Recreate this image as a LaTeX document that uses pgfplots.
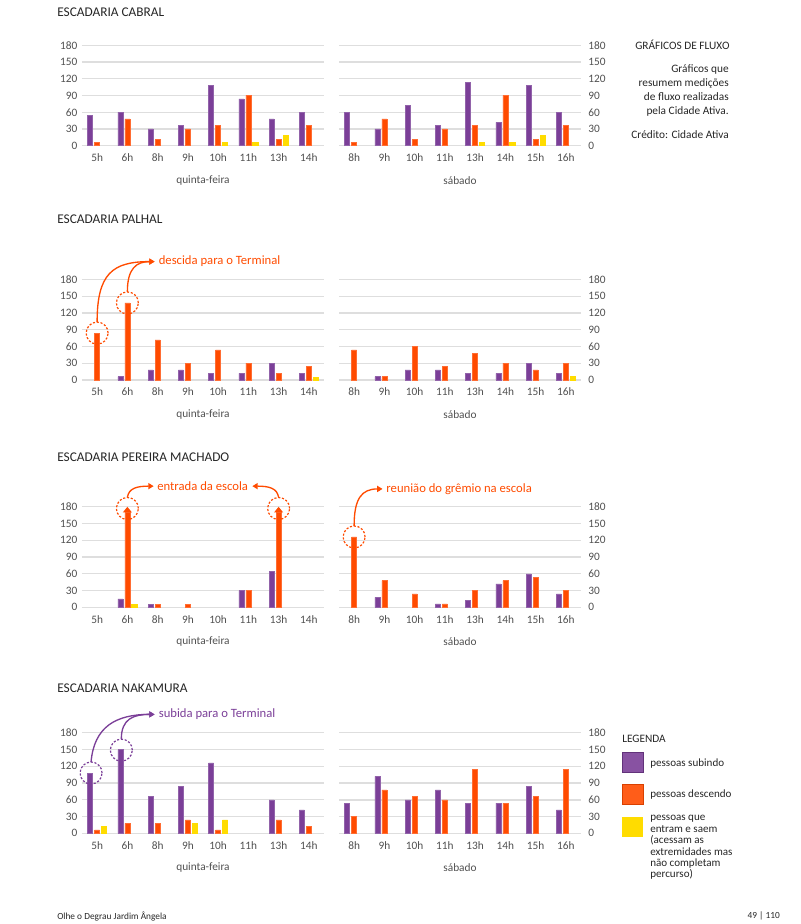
\documentclass[border=0pt]{standalone}
\usepackage{pgfplots}
\pgfplotsset{compat=1.18}
\usepackage{fontspec}
\setmainfont{Carlito}
\usetikzlibrary{arrows.meta}

\definecolor{roxo}{HTML}{7B3F98}
\definecolor{roxoB}{HTML}{9263AA}
\definecolor{laranja}{HTML}{FF4B00}
\definecolor{laranjaB}{HTML}{FF6D33}
\definecolor{amarelo}{HTML}{FFDC00}
\definecolor{grade}{HTML}{DEDEDE}
\definecolor{texto}{HTML}{505050}

\pgfplotsset{
  fluxo/.style={
    ybar, scale only axis, width=181.5pt, height=75.4pt,
    anchor=south west, clip=false,
    xmin=-0.5, xmax=7.5, ymin=0, ymax=180,
    xtick={0,...,7}, ytick={0,30,...,180},
    ymajorgrids, grid style={grade, line width=1pt},
    axis line style={draw=none}, major tick length=0pt,
    tick label style={font=\fontsize{8.5}{10}\selectfont, text=texto},
    xticklabel style={yshift=-2.5pt},
    label style={font=\fontsize{8.5}{10}\selectfont, text=texto},
    xlabel style={at={(axis description cs:0.5,0)}, anchor=center, yshift=-26pt},
    /pgf/number format/assume math mode=true,
    bar width=0.17,
  },
  esq/.style={fluxo, xticklabels={5h,6h,8h,9h,10h,11h,13h,14h}, xlabel={quinta-feira}},
  dir/.style={fluxo, xticklabels={8h,9h,10h,11h,13h,14h,15h,16h}, xlabel={sábado},
    yticklabel pos=right, yticklabel style={xshift=2pt}},
  sobe/.style={fill=roxo, draw=roxoB, line width=0.4pt, bar shift=-0.23},
  desce/.style={fill=laranja, draw=laranjaB, line width=0.4pt, bar shift=0},
  passa/.style={fill=amarelo, draw=amarelo, line width=0.4pt, bar shift=0.23},
}
\tikzset{
  roda/.style={line width=0.9pt, dash pattern=on 1.6pt off 1.3pt},
  seta/.style={line width=1pt, -{Triangle[length=4pt,width=4.5pt]}},
  nota/.style={anchor=west, inner sep=0pt, font=\fontsize{9.5}{11}\selectfont},
}

\begin{document}
\begin{tikzpicture}
\useasboundingbox (0,0) rectangle (600pt,-693pt);

% ---------- Escadaria Cabral
\begin{axis}[esq, at={(61.5pt,-109.3pt)}]
\addplot[sobe] coordinates {(0,54)(1,60)(2,30)(3,36)(4,108)(5,84)(6,48)(7,60)};
\addplot[desce] coordinates {(0,6)(1,48)(2,12)(3,30)(4,36)(5,90)(6,12)(7,36)};
\addplot[passa] coordinates {(4,6)(5,6)(6,18)};
\end{axis}
\begin{axis}[dir, at={(254.25pt,-109.3pt)}]
\addplot[sobe] coordinates {(0,60)(1,30)(2,72)(3,36)(4,114)(5,42)(6,108)(7,60)};
\addplot[desce] coordinates {(0,6)(1,48)(2,12)(3,30)(4,36)(5,90)(6,12)(7,36)};
\addplot[passa] coordinates {(4,6)(5,6)(6,18)};
\end{axis}

% ---------- Escadaria Palhal
\begin{axis}[esq, at={(61.5pt,-285pt)}]
\addplot[sobe] coordinates {(1,6)(2,18)(3,18)(4,12)(5,12)(6,30)(7,12)};
\addplot[desce] coordinates {(0,84)(1,138)(2,72)(3,30)(4,54)(5,30)(6,12)(7,24)};
\addplot[passa] coordinates {(7,5)};
\draw[roda, laranja] (axis cs:0,84) circle[radius=8.25pt];
\draw[roda, laranja] (axis cs:1,138) circle[radius=8.25pt];
\draw[seta, laranja] (axis cs:0,104) .. controls (axis cs:0,190) and (axis cs:0.5,212) .. (axis cs:1.9,212);
\draw[seta, laranja] (axis cs:1,158) .. controls (axis cs:1,200) and (axis cs:1.3,212) .. (axis cs:1.9,212);
\node[nota, text=laranja] at (axis cs:2.03,212) {descida para o Terminal};
\end{axis}
\begin{axis}[dir, at={(254.25pt,-285pt)}]
\addplot[sobe] coordinates {(1,6)(2,18)(3,18)(4,12)(5,12)(6,30)(7,12)};
\addplot[desce] coordinates {(0,54)(1,6)(2,60)(3,24)(4,48)(5,30)(6,18)(7,30)};
\addplot[passa] coordinates {(7,6)};
\end{axis}

% ---------- Escadaria Pereira Machado
\begin{axis}[esq, at={(61.5pt,-455.5pt)}]
\addplot[sobe] coordinates {(1,15)(2,5)(5,30)(6,65)};
\addplot[desce] coordinates {(1,171)(2,5)(3,5)(5,30)(6,171)};
\addplot[passa] coordinates {(1,5)};
\addplot[sharp plot, fill=laranja, draw=none, forget plot] coordinates {(0.85,170)(1.15,170)(1,180)};
\addplot[sharp plot, fill=laranja, draw=none, forget plot] coordinates {(5.85,170)(6.15,170)(6,180)};
\draw[roda, laranja] (axis cs:1,177) circle[radius=8.25pt];
\draw[roda, laranja] (axis cs:6,177) circle[radius=8.25pt];
\draw[seta, laranja] (axis cs:1,197) .. controls (axis cs:1.05,213) and (axis cs:1.3,217) .. (axis cs:1.87,217);
\draw[seta, laranja] (axis cs:6,197) .. controls (axis cs:5.95,213) and (axis cs:5.7,217) .. (axis cs:5.13,217);
\node[nota, anchor=center, text=laranja] at (axis cs:3.49,217) {entrada da escola};
\end{axis}
\begin{axis}[dir, at={(254.25pt,-455.5pt)}]
\addplot[sobe] coordinates {(1,18)(3,6)(4,12)(5,42)(6,60)(7,24)};
\addplot[desce] coordinates {(0,126)(1,48)(2,24)(3,6)(4,30)(5,48)(6,54)(7,30)};
\draw[roda, laranja] (axis cs:0,126) circle[radius=8.25pt];
\draw[seta, laranja] (axis cs:0,146) .. controls (axis cs:0,195) and (axis cs:0.25,212) .. (axis cs:0.94,212);
\node[nota, text=laranja] at (axis cs:1.06,212) {reunião do grêmio na escola};
\end{axis}

% ---------- Escadaria Nakamura
\begin{axis}[esq, at={(61.5pt,-625pt)}]
\addplot[sobe] coordinates {(0,108)(1,150)(2,66)(3,84)(4,126)(6,60)(7,42)};
\addplot[desce] coordinates {(0,6)(1,18)(2,18)(3,24)(4,6)(6,24)(7,12)};
\addplot[passa] coordinates {(0,12)(3,18)(4,24)};
\draw[roda, roxo] (axis cs:-0.2,108) circle[radius=8.25pt];
\draw[roda, roxo] (axis cs:0.8,149) circle[radius=8.25pt];
\draw[seta, roxo] (axis cs:-0.2,128) .. controls (axis cs:-0.1,190) and (axis cs:0.6,213) .. (axis cs:1.9,213);
\draw[seta, roxo] (axis cs:0.8,169) .. controls (axis cs:0.8,205) and (axis cs:1.2,213) .. (axis cs:1.9,213);
\node[nota, text=roxo] at (axis cs:2.03,213) {subida para o Terminal};
\end{axis}
\begin{axis}[dir, at={(254.25pt,-625pt)}]
\addplot[sobe] coordinates {(0,54)(1,102)(2,60)(3,78)(4,54)(5,54)(6,84)(7,42)};
\addplot[desce] coordinates {(0,30)(1,78)(2,66)(3,60)(4,114)(5,54)(6,66)(7,114)};
\end{axis}

% ---------- textos soltos (coordenadas em px da pagina)
\begin{scope}[x=0.75pt, y=-0.75pt]
\foreach \t/\yy in {ESCADARIA CABRAL/12, ESCADARIA PALHAL/219, ESCADARIA PEREIRA MACHADO/457, ESCADARIA NAKAMURA/688}
  \node[anchor=west, inner sep=0pt, font=\fontsize{10}{12}\selectfont, text=black!85] at (57,\yy) {\t};

\node[anchor=west, inner sep=0pt, font=\fontsize{8.5}{10}\selectfont, text=black!85] at (635,45) {GRÁFICOS DE FLUXO};
\node[anchor=north east, inner sep=0pt, align=right, font=\fontsize{8.5}{10.5}\selectfont, text=black!85]
  at (729,64) {Gráficos que\\resumem medições\\de fluxo realizadas\\pela Cidade Ativa.};
\node[anchor=east, inner sep=0pt, font=\fontsize{8.5}{10}\selectfont, text=black!85] at (729,135) {Crédito: Cidade Ativa};

\node[anchor=west, inner sep=0pt, font=\fontsize{8.5}{10}\selectfont, text=black!85] at (622,739) {LEGENDA};
\filldraw[fill=roxo!90!white, draw=roxo!80!black, line width=0.5pt] (622,752) rectangle (643,772);
\filldraw[fill=laranja!90!white, draw=laranja!85!black, line width=0.5pt] (622,784) rectangle (643,804);
\fill[amarelo] (622,817) rectangle (643,837);
\node[anchor=west, inner sep=0pt, font=\fontsize{8.3}{9}\selectfont, text=black!85] at (650,764) {pessoas subindo};
\node[anchor=west, inner sep=0pt, font=\fontsize{8.3}{9}\selectfont, text=black!85] at (650,795) {pessoas descendo};
\node[anchor=north west, inner sep=0pt, align=left, font=\fontsize{8.3}{8.6}\selectfont, text=black!85]
  at (650,815) {pessoas que\\entram e saem\\(acessam as\\extremidades mas\\não completam\\percurso)};

\node[anchor=west, inner sep=0pt, font=\fontsize{7}{8}\selectfont, text=black!85] at (57,916) {Olhe o Degrau Jardim Ângela};
\node[anchor=east, inner sep=0pt, font=\fontsize{7}{8}\selectfont, text=black!85] at (780,916) {49 | 110};
\end{scope}
\end{tikzpicture}
\end{document}
